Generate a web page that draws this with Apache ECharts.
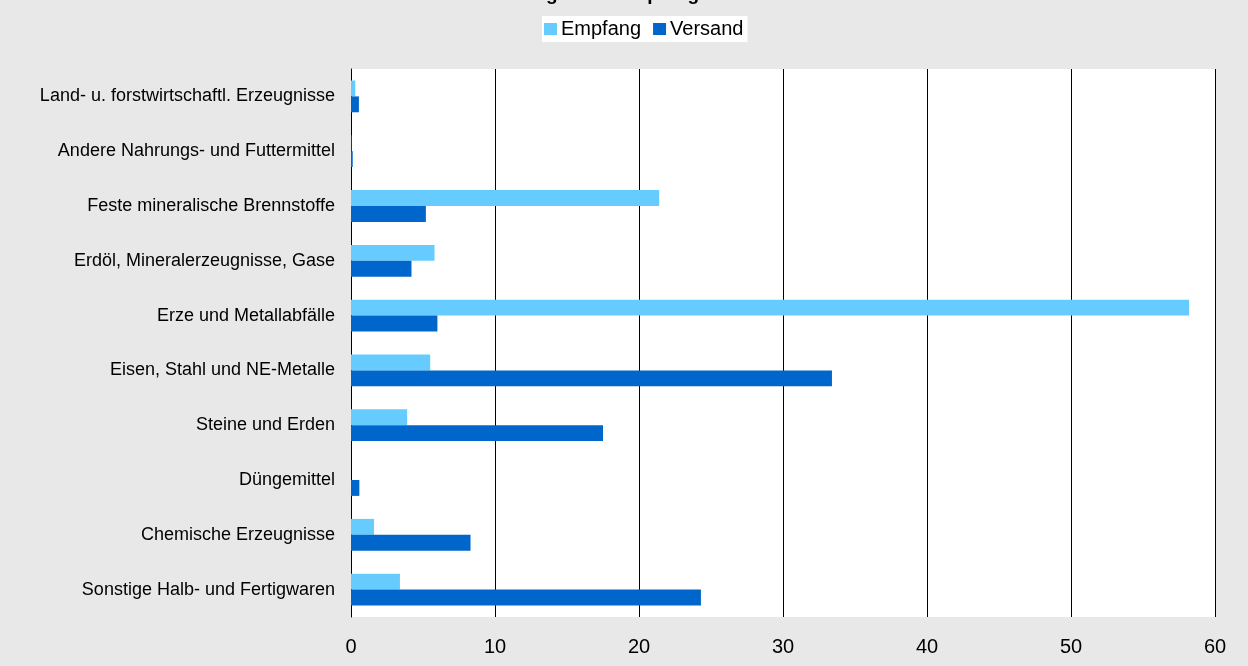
<!DOCTYPE html>
<html>
<head>
<meta charset="utf-8">
<script src="https://cdn.jsdelivr.net/npm/echarts@6/dist/echarts.min.js"></script>
<style>
html,body{margin:0;padding:0;background:#e8e8e8;}
#chart{width:1248px;height:666px;}
</style>
</head>
<body>
<div id="chart"></div>
<script>
const titleText = 'Anteile der Güterabteilungen am Empfang und Versand in Prozent';
const categories = [
  'Land- u. forstwirtschaftl. Erzeugnisse',
  'Andere Nahrungs- und Futtermittel',
  'Feste mineralische Brennstoffe',
  'Erdöl, Mineralerzeugnisse, Gase',
  'Erze und Metallabfälle',
  'Eisen, Stahl und NE-Metalle',
  'Steine und Erden',
  'Düngemittel',
  'Chemische Erzeugnisse',
  'Sonstige Halb- und Fertigwaren'
];
const empfang = [0.3, 0.02, 21.4, 5.8, 58.2, 5.5, 3.9, 0, 1.6, 3.4];
const versand = [0.55, 0.12, 5.2, 4.2, 6.0, 33.4, 17.5, 0.58, 8.3, 24.3];
const xTicks = { min: 0, max: 60, interval: 10 };

const font = 'Liberation Sans, Arial, sans-serif';
const chart = echarts.init(document.getElementById('chart'));
chart.setOption({
  backgroundColor: '#e8e8e8',
  animation: false,
  textStyle: { fontFamily: font },
  title: {
    text: titleText,
    left: 314,
    top: -20,
    textStyle: { fontFamily: font, fontSize: 19, fontWeight: 'bold', color: '#000' }
  },
  legend: {
    data: ['Empfang', 'Versand'],
    left: 542,
    top: 16,
    backgroundColor: '#ffffff',
    padding: [3, 4, 3, 2],
    itemWidth: 13,
    itemHeight: 12,
    itemGap: 12,
    icon: 'rect',
    textStyle: { fontFamily: font, fontSize: 20, color: '#000', padding: [0, 0, 0, -1] }
  },
  grid: {
    left: 351, right: 33, top: 69, bottom: 49,
    show: true, backgroundColor: '#ffffff', borderWidth: 0
  },
  xAxis: {
    type: 'value',
    min: xTicks.min, max: xTicks.max, interval: xTicks.interval,
    axisLine: { show: false },
    axisTick: { show: false },
    splitLine: { show: true, lineStyle: { color: '#000', width: 1 } },
    axisLabel: { fontFamily: font, fontSize: 20, color: '#000', margin: 20 }
  },
  yAxis: {
    type: 'category',
    inverse: true,
    data: categories,
    axisLine: { show: true, lineStyle: { color: '#000', width: 1 } },
    axisTick: { show: false },
    splitLine: { show: false },
    axisLabel: { fontFamily: font, fontSize: 18, color: '#000', margin: 16 }
  },
  series: [
    { name: 'Empfang', type: 'bar', data: empfang, itemStyle: { color: '#66ccff' },
      barGap: '0%', barCategoryGap: '42%' },
    { name: 'Versand', type: 'bar', data: versand, itemStyle: { color: '#0066cc' },
      barGap: '0%', barCategoryGap: '42%' }
  ]
});
</script>
</body>
</html>
